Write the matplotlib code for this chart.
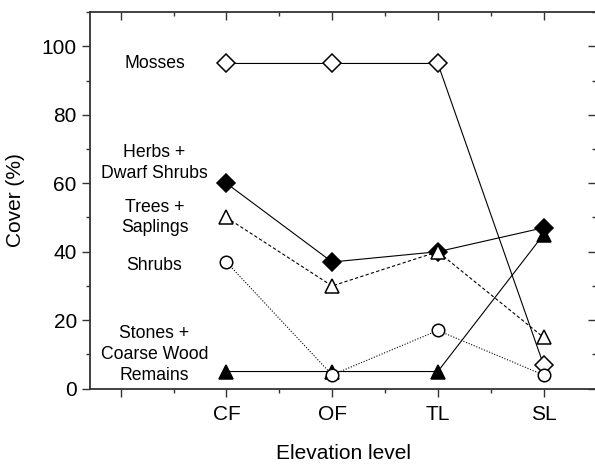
import numpy as np
import matplotlib.pyplot as plt
from matplotlib.ticker import MultipleLocator

plt.rcParams['font.family'] = ['Liberation Sans', 'DejaVu Sans']

levels = ['CF', 'OF', 'TL', 'SL']
x_pos = np.arange(1, len(levels) + 1)

mosses = [95, 95, 95, 7]
herbs = [60, 37, 40, 47]
trees = [50, 30, 40, 15]
shrubs = [37, 4, 17, 4]
stones = [5, 5, 5, 45]

group_labels = ['Mosses', 'Herbs +\nDwarf Shrubs', 'Trees +\nSaplings', 'Shrubs',
                'Stones +\nCoarse Wood\nRemains']
label_y = [95, 66, 50, 36, 10]

fig = plt.figure(figsize=(5.95, 4.66), dpi=100)
ax = fig.add_axes([0.1513, 0.166, 0.851, 0.808])

lw = 0.8
mew = 1.1
# draw order: open markers on top of the filled ones where they overlap
ax.plot(x_pos, stones, color='black', lw=lw, marker='^', ms=10,
        mfc='black', mec='black', mew=mew, zorder=3)
ax.plot(x_pos, herbs, color='black', lw=lw, marker='D', ms=9,
        mfc='black', mec='black', mew=mew, zorder=3)
ax.plot(x_pos, mosses, color='black', lw=lw, marker='D', ms=9,
        mfc='white', mec='black', mew=mew, zorder=4)
ax.plot(x_pos, trees, color='black', lw=lw, ls=(0, (3, 2)), marker='^', ms=10,
        mfc='white', mec='black', mew=mew, zorder=4)
ax.plot(x_pos, shrubs, color='black', lw=lw, ls=(0, (1, 1.5)), marker='o', ms=9,
        mfc='white', mec='black', mew=mew, zorder=5)

for txt, yv in zip(group_labels, label_y):
    ax.text(0.32, yv, txt, ha='center', va='center', fontsize=12.7,
            linespacing=1.3)

ax.set_xlim(-0.29, 4.5)
ax.set_ylim(0, 110)

ax.set_xticks(np.arange(0, 5))
ax.set_xticklabels([''] + levels, fontsize=15)
ax.xaxis.set_minor_locator(MultipleLocator(0.5))
ax.set_yticks(np.arange(0, 101, 20))
ax.yaxis.set_minor_locator(MultipleLocator(10))
ax.tick_params(axis='y', labelsize=15)

ax.tick_params(which='both', top=True, right=True, width=1.0, color='#333333')
ax.tick_params(which='major', length=6)
ax.tick_params(which='minor', length=3)
ax.tick_params(axis='x', which='both', direction='out', bottom=True)
ax.tick_params(axis='x', which='major', pad=6)
ax.tick_params(axis='y', which='both', direction='out', left=True)

# top and right ticks point inward, bottom and left outward
for t in ax.xaxis.get_major_ticks() + ax.xaxis.get_minor_ticks():
    t.tick2line.set_marker(3)
for t in ax.yaxis.get_major_ticks() + ax.yaxis.get_minor_ticks():
    t.tick2line.set_marker(0)

for s in ax.spines.values():
    s.set_linewidth(1.3)
    s.set_color('#333333')

ax.set_xlabel('Elevation level', fontsize=15, labelpad=14)
ax.set_ylabel('Cover (%)', fontsize=15, labelpad=12)

fig.savefig('out.png', dpi=100)
